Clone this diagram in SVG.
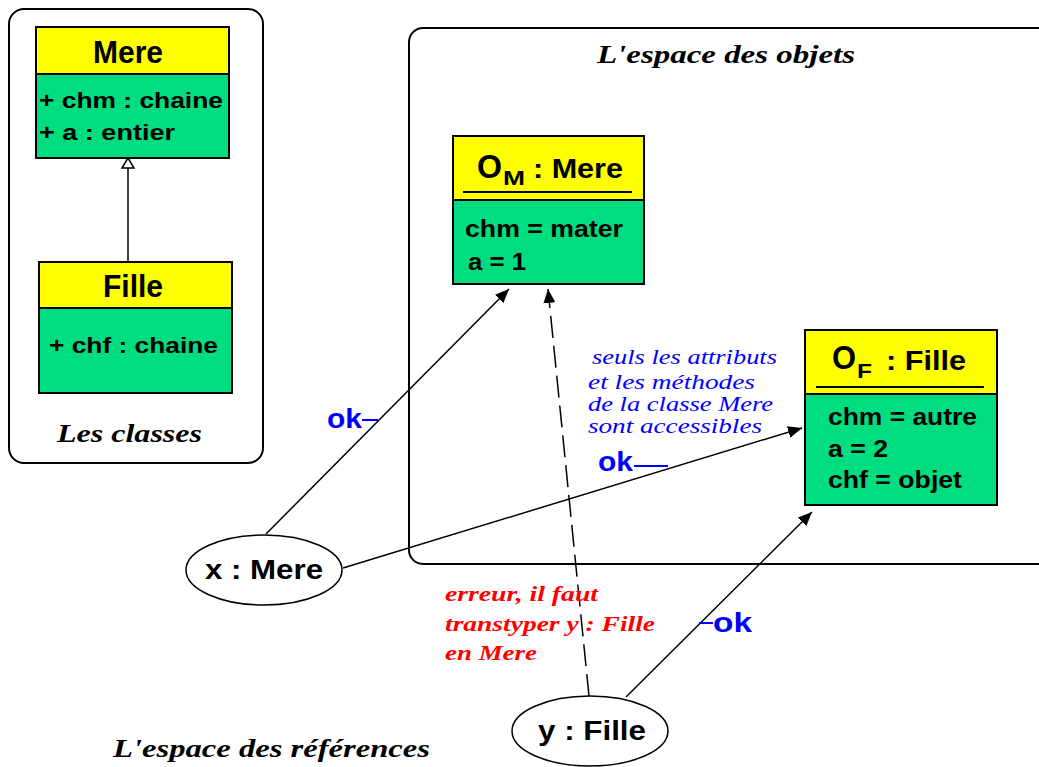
<svg xmlns="http://www.w3.org/2000/svg" width="1039" height="767" viewBox="0 0 1039 767">
<style>
.panel{fill:none;stroke:#000;stroke-width:2}
.hdr{fill:#ffff00;stroke:#000;stroke-width:2}
.body{fill:#00dd80;stroke:#000;stroke-width:2}
.t{font-family:"Liberation Sans",Arial,sans-serif;font-weight:bold;fill:#000}
.cap{font-family:"Liberation Serif","Times New Roman",serif;font-weight:bold;font-style:italic;fill:#000;font-size:26px}
.blue{font-family:"Liberation Serif","Times New Roman",serif;font-style:italic;fill:#0000ff;font-size:20px}
.red{font-family:"Liberation Serif","Times New Roman",serif;font-style:italic;font-weight:bold;fill:#ff0000;font-size:20px}
.ok{font-family:"Liberation Sans",Arial,sans-serif;font-weight:bold;fill:#0000ff;font-size:28px}
.ell{fill:#fff;stroke:#000;stroke-width:1.5}
.conn{fill:none;stroke:#000;stroke-width:1.5}
.bl{stroke:#0000ff;stroke-width:2}
</style>
<defs>
<marker id="arr" viewBox="0 0 14 12" refX="14" refY="6" markerWidth="14" markerHeight="12" orient="auto" markerUnits="userSpaceOnUse"><path d="M0,0 L14,6 L0,12 z" fill="#000"/></marker>
<marker id="tri" viewBox="-1 -1 12 14" refX="10" refY="6" markerWidth="12" markerHeight="14" orient="auto" markerUnits="userSpaceOnUse"><path d="M0,0 L10,6 L0,12 z" fill="#fff" stroke="#000" stroke-width="1.5"/></marker>
</defs>
<rect width="1039" height="767" fill="#fff"/>

<g id="panel-classes">
<rect class="panel" x="9" y="9" width="254" height="454" rx="15"/>
<text class="cap" x="57" y="442" textLength="145" lengthAdjust="spacingAndGlyphs">Les classes</text>
</g>
<g id="panel-objets">
<rect class="panel" x="409" y="28" width="700" height="536" rx="14"/>
<text class="cap" x="597" y="63" textLength="258" lengthAdjust="spacingAndGlyphs">L'espace des objets</text>
</g>
<g id="label-references">
<text class="cap" x="113" y="757" textLength="317" lengthAdjust="spacingAndGlyphs">L'espace des références</text>
</g>

<g id="class-Mere">
<rect class="body" x="36" y="74" width="193" height="84"/>
<rect class="hdr" x="36" y="27" width="193" height="47"/>
<text class="t" x="128" y="63" font-size="32" text-anchor="middle" textLength="70" lengthAdjust="spacingAndGlyphs">Mere</text>
<text class="t" x="39" y="108" font-size="22" textLength="184" lengthAdjust="spacingAndGlyphs">+ chm : chaine</text>
<text class="t" x="39" y="140" font-size="22" textLength="136" lengthAdjust="spacingAndGlyphs">+ a : entier</text>
</g>

<g id="class-Fille">
<rect class="body" x="39" y="308" width="193" height="85"/>
<rect class="hdr" x="39" y="262" width="193" height="46"/>
<text class="t" x="133" y="297" font-size="32" text-anchor="middle" textLength="60" lengthAdjust="spacingAndGlyphs">Fille</text>
<text class="t" x="49" y="353" font-size="22" textLength="169" lengthAdjust="spacingAndGlyphs">+ chf : chaine</text>
</g>

<g id="obj-OM">
<rect class="body" x="453" y="200" width="191" height="84"/>
<rect class="hdr" x="453" y="136" width="191" height="64"/>
<line x1="463" y1="192" x2="632" y2="192" stroke="#000" stroke-width="2"/>
<text class="t" x="477" y="178" font-size="34" textLength="25" lengthAdjust="spacingAndGlyphs">O</text>
<text class="t" x="503" y="185" font-size="21" textLength="22" lengthAdjust="spacingAndGlyphs">M</text>
<text class="t" x="533" y="178" font-size="28" textLength="90" lengthAdjust="spacingAndGlyphs">: Mere</text>
<text class="t" x="465" y="237" font-size="24" textLength="158" lengthAdjust="spacingAndGlyphs">chm = mater</text>
<text class="t" x="468" y="270" font-size="24" textLength="58" lengthAdjust="spacingAndGlyphs">a = 1</text>
</g>

<g id="obj-OF">
<rect class="body" x="805" y="394" width="192" height="111"/>
<rect class="hdr" x="805" y="330" width="192" height="64"/>
<line x1="816" y1="387" x2="984" y2="387" stroke="#000" stroke-width="2"/>
<text class="t" x="832" y="369" font-size="34" textLength="24" lengthAdjust="spacingAndGlyphs">O</text>
<text class="t" x="857" y="378" font-size="21" textLength="15" lengthAdjust="spacingAndGlyphs">F</text>
<text class="t" x="886" y="370" font-size="28" textLength="80" lengthAdjust="spacingAndGlyphs">: Fille</text>
<text class="t" x="828" y="425" font-size="24" textLength="149" lengthAdjust="spacingAndGlyphs">chm = autre</text>
<text class="t" x="828" y="457" font-size="24" textLength="60" lengthAdjust="spacingAndGlyphs">a = 2</text>
<text class="t" x="828" y="488" font-size="24" textLength="134" lengthAdjust="spacingAndGlyphs">chf = objet</text>
</g>

<g id="ref-x">
<ellipse class="ell" cx="264" cy="570" rx="78" ry="35"/>
<text class="t" x="264" y="579" font-size="28" text-anchor="middle" textLength="118" lengthAdjust="spacingAndGlyphs">x : Mere</text>
</g>

<g id="ref-y">
<ellipse class="ell" cx="590" cy="731" rx="78" ry="35"/>
<text class="t" x="592" y="740" font-size="28" text-anchor="middle" textLength="108" lengthAdjust="spacingAndGlyphs">y : Fille</text>
</g>

<g id="connectors">
<line class="conn" x1="128" y1="262" x2="128" y2="158" marker-end="url(#tri)"/>
<line class="conn" x1="266" y1="534" x2="509" y2="289" marker-end="url(#arr)"/>
<line class="conn" x1="343" y1="568" x2="802" y2="428" marker-end="url(#arr)"/>
<line class="conn" x1="626" y1="697" x2="812" y2="512" marker-end="url(#arr)"/>
<line class="conn" x1="589" y1="696" x2="548" y2="289" stroke-dasharray="22 8" marker-end="url(#arr)"/>
</g>

<g id="labels">
<text class="ok" x="327" y="428" textLength="35" lengthAdjust="spacingAndGlyphs">ok</text>
<line class="bl" x1="362" y1="420" x2="378" y2="420"/>
<text class="ok" x="598" y="471" textLength="35" lengthAdjust="spacingAndGlyphs">ok</text>
<line class="bl" x1="634" y1="466" x2="668" y2="466"/>
<line class="bl" x1="699" y1="623" x2="713" y2="623"/>
<text class="ok" x="713" y="632" textLength="39" lengthAdjust="spacingAndGlyphs">ok</text>
<text class="blue" x="592" y="364" textLength="185" lengthAdjust="spacingAndGlyphs">seuls les attributs</text>
<text class="blue" x="588" y="389" textLength="167" lengthAdjust="spacingAndGlyphs">et les méthodes</text>
<text class="blue" x="588" y="411" textLength="185" lengthAdjust="spacingAndGlyphs">de la classe Mere</text>
<text class="blue" x="588" y="433" textLength="174" lengthAdjust="spacingAndGlyphs">sont accessibles</text>
<text class="red" x="445" y="601" textLength="153" lengthAdjust="spacingAndGlyphs">erreur, il faut</text>
<text class="red" x="445" y="631" textLength="210" lengthAdjust="spacingAndGlyphs">transtyper y : Fille</text>
<text class="red" x="445" y="660" textLength="92" lengthAdjust="spacingAndGlyphs">en Mere</text>
</g>
</svg>
